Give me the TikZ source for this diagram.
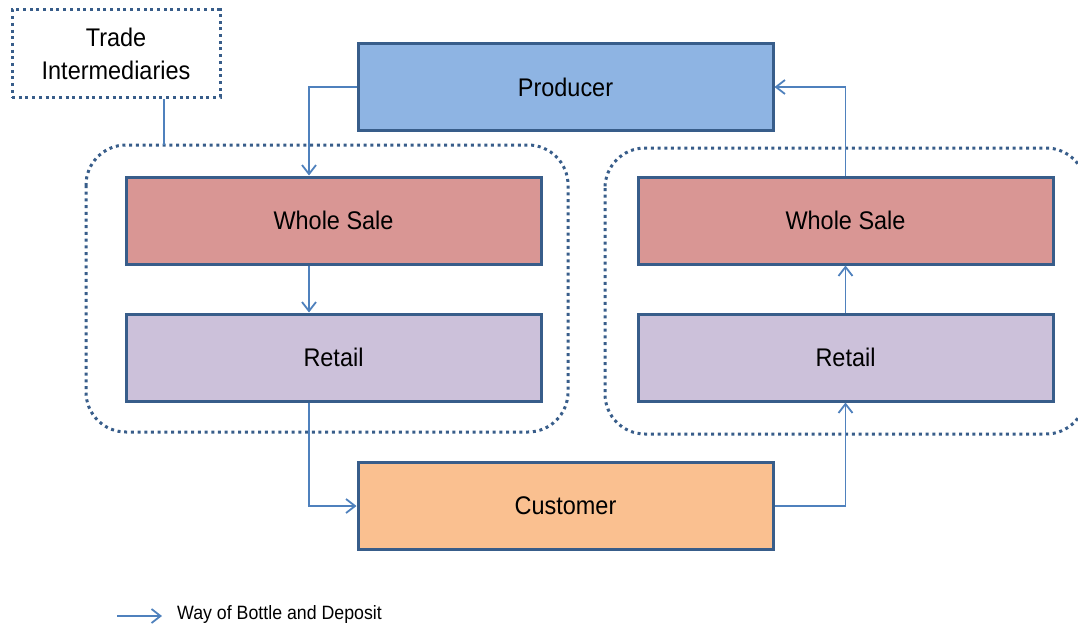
\documentclass[tikz,border=0pt]{standalone}
\usepackage{fontspec}
\setmainfont{Liberation Sans}[FakeStretch=0.92]
\usetikzlibrary{arrows.meta}
\definecolor{edge}{HTML}{385D8A}
\definecolor{flowc}{HTML}{4F81BD}
\definecolor{prodfill}{HTML}{8EB4E3}
\definecolor{wsfill}{HTML}{D99694}
\definecolor{retfill}{HTML}{CCC1DA}
\definecolor{custfill}{HTML}{FAC090}
\tikzset{
  box/.style={draw=edge, line width=3pt, minimum width=415pt, minimum height=87pt,
    inner sep=0pt, font=\fontsize{25.5}{30}\selectfont},
  groupline/.style={draw=edge, line width=3pt, dash pattern=on 3pt off 3.7pt},
  flow/.style={draw=flowc, line width=1.8pt,
    -{Straight Barb[length=9pt, width=14pt, line width=1.8pt]}},
  link/.style={draw=flowc, line width=1.8pt}
}
\begin{document}
\begin{tikzpicture}[x=1pt, y=-1pt]
\useasboundingbox (0,0) rectangle (1078,626);
\clip (0,0) rectangle (1078,626);

% dotted groups of trade intermediaries
\draw[groupline, rounded corners=40pt] (86,145) rectangle (568,432);
\draw[groupline, rounded corners=40pt] (605,148) rectangle (1086,434);

% label box for the groups
\node[groupline, minimum width=208pt, minimum height=87pt, inner sep=0pt,
  align=center, font=\fontsize{25.5}{33}\selectfont] (trade) at (116,53.5)
  {Trade\\Intermediaries};
\coordinate (tradeend) at (164,145);
\draw[link] (trade.south -| tradeend) -- (tradeend);

% stages
\node[box, fill=prodfill] (prod) at (565.5,87) {Producer};
\node[box, fill=wsfill]   (lws)  at (333.5,220.5) {Whole Sale};
\node[box, fill=retfill]  (lret) at (333.5,357.5) {Retail};
\node[box, fill=wsfill]   (rws)  at (845.5,220.5) {Whole Sale};
\node[box, fill=retfill]  (rret) at (845.5,357.5) {Retail};
\node[box, fill=custfill] (cust) at (565.5,506) {Customer};

% way of bottle and deposit
\coordinate (lx) at (309,0);
\draw[flow] (prod.west) -| (lx |- lws.north);
\draw[flow] (lx |- lws.south) -- (lx |- lret.north);
\draw[flow] (lx |- lret.south) |- (cust.west);
\draw[flow] (cust.east) -| (rret.south);
\draw[flow] (rret.north) -- (rws.south);
\draw[flow] (rws.north) |- (prod.east);

% legend
\coordinate (lga) at (117,616);
\coordinate (lgb) at (162,616);
\draw[flow] (lga) -- (lgb);
\node[anchor=west, inner sep=0pt, font=\fontsize{19.3}{22}\selectfont] (lgt) at (177,615)
  {Way of Bottle and Deposit};
\end{tikzpicture}
\end{document}
